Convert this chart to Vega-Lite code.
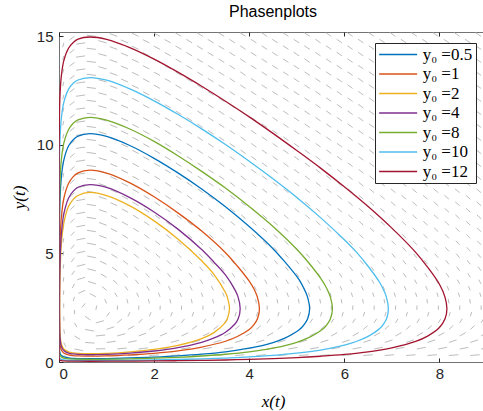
{
"$schema":"https://vega.github.io/schema/vega-lite/v6.json",
"width":428,"height":330,"autosize":"none",
"padding":{"left":59,"top":32,"right":0,"bottom":49},
"background":"white",
"title":{"text":"Phasenplots","font":"Liberation Sans","fontSize":16,"fontWeight":"normal","color":"#000","offset":9,"anchor":"middle"},
"config":{"view":{"stroke":"#737373","strokeWidth":1}},
"datasets":{
"q":[
{"x":0.1,"y":0.3,"xe":0.237,"ye":0.155},{"x":0.55,"y":0.3,"xe":0.75,"ye":0.293},{"x":1,"y":0.3,"xe":1.2,"ye":0.313},{"x":1.45,"y":0.3,"xe":1.649,"ye":0.321},{"x":1.9,"y":0.3,"xe":2.098,"ye":0.325},{"x":2.35,"y":0.3,"xe":2.548,"ye":0.328},{"x":2.8,"y":0.3,"xe":2.998,"ye":0.329},{"x":3.25,"y":0.3,"xe":3.448,"ye":0.33},{"x":3.7,"y":0.3,"xe":3.897,"ye":0.332},{"x":4.15,"y":0.3,"xe":4.347,"ye":0.332},{"x":4.6,"y":0.3,"xe":4.797,"ye":0.332},{"x":5.05,"y":0.3,"xe":5.247,"ye":0.332},{"x":5.5,"y":0.3,"xe":5.697,"ye":0.334},{"x":5.95,"y":0.3,"xe":6.147,"ye":0.334},{"x":6.4,"y":0.3,"xe":6.597,"ye":0.334},{"x":6.85,"y":0.3,"xe":7.047,"ye":0.334},{"x":7.3,"y":0.3,"xe":7.497,"ye":0.334},{"x":7.75,"y":0.3,"xe":7.947,"ye":0.334},{"x":8.2,"y":0.3,"xe":8.397,"ye":0.334},{"x":8.65,"y":0.3,"xe":8.847,"ye":0.334},
{"x":0.1,"y":0.9,"xe":0.144,"ye":0.705},{"x":0.55,"y":0.9,"xe":0.748,"ye":0.871},{"x":1,"y":0.9,"xe":1.193,"ye":0.954},{"x":1.45,"y":0.9,"xe":1.633,"ye":0.981},{"x":1.9,"y":0.9,"xe":2.077,"ye":0.993},{"x":2.35,"y":0.9,"xe":2.523,"ye":1.0},{"x":2.8,"y":0.9,"xe":2.97,"ye":1.005},{"x":3.25,"y":0.9,"xe":3.418,"ye":1.008},{"x":3.7,"y":0.9,"xe":3.867,"ye":1.01},{"x":4.15,"y":0.9,"xe":4.316,"ye":1.012},{"x":4.6,"y":0.9,"xe":4.765,"ye":1.013},{"x":5.05,"y":0.9,"xe":5.214,"ye":1.014},{"x":5.5,"y":0.9,"xe":5.663,"ye":1.015},{"x":5.95,"y":0.9,"xe":6.112,"ye":1.017},{"x":6.4,"y":0.9,"xe":6.562,"ye":1.017},{"x":6.85,"y":0.9,"xe":7.012,"ye":1.017},{"x":7.3,"y":0.9,"xe":7.461,"ye":1.019},{"x":7.75,"y":0.9,"xe":7.911,"ye":1.019},{"x":8.2,"y":0.9,"xe":8.361,"ye":1.019},{"x":8.65,"y":0.9,"xe":8.811,"ye":1.019},
{"x":0.1,"y":1.5,"xe":0.117,"ye":1.301},{"x":0.55,"y":1.5,"xe":0.736,"ye":1.426},{"x":1,"y":1.5,"xe":1.159,"ye":1.621},{"x":1.45,"y":1.5,"xe":1.578,"ye":1.654},{"x":1.9,"y":1.5,"xe":2.014,"ye":1.664},{"x":2.35,"y":1.5,"xe":2.457,"ye":1.669},{"x":2.8,"y":1.5,"xe":2.903,"ye":1.672},{"x":3.25,"y":1.5,"xe":3.349,"ye":1.674},{"x":3.7,"y":1.5,"xe":3.797,"ye":1.675},{"x":4.15,"y":1.5,"xe":4.246,"ye":1.676},{"x":4.6,"y":1.5,"xe":4.694,"ye":1.676},{"x":5.05,"y":1.5,"xe":5.143,"ye":1.677},{"x":5.5,"y":1.5,"xe":5.592,"ye":1.677},{"x":5.95,"y":1.5,"xe":6.041,"ye":1.678},{"x":6.4,"y":1.5,"xe":6.491,"ye":1.678},{"x":6.85,"y":1.5,"xe":6.941,"ye":1.678},{"x":7.3,"y":1.5,"xe":7.389,"ye":1.679},{"x":7.75,"y":1.5,"xe":7.839,"ye":1.679},{"x":8.2,"y":1.5,"xe":8.289,"ye":1.679},{"x":8.65,"y":1.5,"xe":8.739,"ye":1.679},
{"x":0.1,"y":2.1,"xe":0.104,"ye":1.9},{"x":0.55,"y":2.1,"xe":0.661,"ye":1.934},{"x":1,"y":2.1,"xe":1.065,"ye":2.289},{"x":1.45,"y":2.1,"xe":1.493,"ye":2.295},{"x":1.9,"y":2.1,"xe":1.936,"ye":2.297},{"x":2.35,"y":2.1,"xe":2.383,"ye":2.297},{"x":2.8,"y":2.1,"xe":2.831,"ye":2.298},{"x":3.25,"y":2.1,"xe":3.28,"ye":2.298},{"x":3.7,"y":2.1,"xe":3.728,"ye":2.298},{"x":4.15,"y":2.1,"xe":4.178,"ye":2.298},{"x":4.6,"y":2.1,"xe":4.628,"ye":2.298},{"x":5.05,"y":2.1,"xe":5.078,"ye":2.298},{"x":5.5,"y":2.1,"xe":5.527,"ye":2.298},{"x":5.95,"y":2.1,"xe":5.977,"ye":2.298},{"x":6.4,"y":2.1,"xe":6.427,"ye":2.298},{"x":6.85,"y":2.1,"xe":6.877,"ye":2.298},{"x":7.3,"y":2.1,"xe":7.327,"ye":2.298},{"x":7.75,"y":2.1,"xe":7.777,"ye":2.298},{"x":8.2,"y":2.1,"xe":8.227,"ye":2.298},{"x":8.65,"y":2.1,"xe":8.677,"ye":2.298},
{"x":0.1,"y":2.7,"xe":0.098,"ye":2.5},{"x":0.55,"y":2.7,"xe":0.481,"ye":2.512},{"x":1,"y":2.7,"xe":0.962,"ye":2.896},{"x":1.45,"y":2.7,"xe":1.426,"ye":2.898},{"x":1.9,"y":2.7,"xe":1.88,"ye":2.899},{"x":2.35,"y":2.7,"xe":2.331,"ye":2.9},{"x":2.8,"y":2.7,"xe":2.783,"ye":2.9},{"x":3.25,"y":2.7,"xe":3.233,"ye":2.9},{"x":3.7,"y":2.7,"xe":3.684,"ye":2.9},{"x":4.15,"y":2.7,"xe":4.134,"ye":2.9},{"x":4.6,"y":2.7,"xe":4.584,"ye":2.9},{"x":5.05,"y":2.7,"xe":5.034,"ye":2.9},{"x":5.5,"y":2.7,"xe":5.485,"ye":2.9},{"x":5.95,"y":2.7,"xe":5.935,"ye":2.9},{"x":6.4,"y":2.7,"xe":6.385,"ye":2.9},{"x":6.85,"y":2.7,"xe":6.835,"ye":2.9},{"x":7.3,"y":2.7,"xe":7.285,"ye":2.9},{"x":7.75,"y":2.7,"xe":7.735,"ye":2.9},{"x":8.2,"y":2.7,"xe":8.185,"ye":2.9},{"x":8.65,"y":2.7,"xe":8.635,"ye":2.9},
{"x":0.1,"y":3.3,"xe":0.093,"ye":3.101},{"x":0.55,"y":3.3,"xe":0.407,"ye":3.161},{"x":1,"y":3.3,"xe":0.906,"ye":3.476},{"x":1.45,"y":3.3,"xe":1.386,"ye":3.489},{"x":1.9,"y":3.3,"xe":1.845,"ye":3.492},{"x":2.35,"y":3.3,"xe":2.3,"ye":3.494},{"x":2.8,"y":3.3,"xe":2.753,"ye":3.495},{"x":3.25,"y":3.3,"xe":3.203,"ye":3.495},{"x":3.7,"y":3.3,"xe":3.657,"ye":3.495},{"x":4.15,"y":3.3,"xe":4.107,"ye":3.495},{"x":4.6,"y":3.3,"xe":4.557,"ye":3.495},{"x":5.05,"y":3.3,"xe":5.007,"ye":3.495},{"x":5.5,"y":3.3,"xe":5.46,"ye":3.496},{"x":5.95,"y":3.3,"xe":5.91,"ye":3.496},{"x":6.4,"y":3.3,"xe":6.36,"ye":3.496},{"x":6.85,"y":3.3,"xe":6.81,"ye":3.496},{"x":7.3,"y":3.3,"xe":7.26,"ye":3.496},{"x":7.75,"y":3.3,"xe":7.71,"ye":3.496},{"x":8.2,"y":3.3,"xe":8.16,"ye":3.496},{"x":8.65,"y":3.3,"xe":8.61,"ye":3.496},
{"x":0.1,"y":3.9,"xe":0.09,"ye":3.701},{"x":0.55,"y":3.9,"xe":0.384,"ye":3.788},{"x":1,"y":3.9,"xe":0.878,"ye":4.058},{"x":1.45,"y":3.9,"xe":1.362,"ye":4.08},{"x":1.9,"y":3.9,"xe":1.824,"ye":4.085},{"x":2.35,"y":3.9,"xe":2.28,"ye":4.087},{"x":2.8,"y":3.9,"xe":2.735,"ye":4.089},{"x":3.25,"y":3.9,"xe":3.185,"ye":4.089},{"x":3.7,"y":3.9,"xe":3.639,"ye":4.091},{"x":4.15,"y":3.9,"xe":4.089,"ye":4.091},{"x":4.6,"y":3.9,"xe":4.539,"ye":4.091},{"x":5.05,"y":3.9,"xe":4.989,"ye":4.091},{"x":5.5,"y":3.9,"xe":5.443,"ye":4.092},{"x":5.95,"y":3.9,"xe":5.893,"ye":4.092},{"x":6.4,"y":3.9,"xe":6.343,"ye":4.092},{"x":6.85,"y":3.9,"xe":6.793,"ye":4.092},{"x":7.3,"y":3.9,"xe":7.243,"ye":4.092},{"x":7.75,"y":3.9,"xe":7.693,"ye":4.092},{"x":8.2,"y":3.9,"xe":8.143,"ye":4.092},{"x":8.65,"y":3.9,"xe":8.593,"ye":4.092},
{"x":0.1,"y":4.5,"xe":0.088,"ye":4.301},{"x":0.55,"y":4.5,"xe":0.375,"ye":4.404},{"x":1,"y":4.5,"xe":0.863,"ye":4.645},{"x":1.45,"y":4.5,"xe":1.347,"ye":4.672},{"x":1.9,"y":4.5,"xe":1.81,"ye":4.679},{"x":2.35,"y":4.5,"xe":2.267,"ye":4.682},{"x":2.8,"y":4.5,"xe":2.722,"ye":4.684},{"x":3.25,"y":4.5,"xe":3.172,"ye":4.684},{"x":3.7,"y":4.5,"xe":3.627,"ye":4.686},{"x":4.15,"y":4.5,"xe":4.077,"ye":4.686},{"x":4.6,"y":4.5,"xe":4.527,"ye":4.686},{"x":5.05,"y":4.5,"xe":4.977,"ye":4.686},{"x":5.5,"y":4.5,"xe":5.431,"ye":4.688},{"x":5.95,"y":4.5,"xe":5.881,"ye":4.688},{"x":6.4,"y":4.5,"xe":6.331,"ye":4.688},{"x":6.85,"y":4.5,"xe":6.781,"ye":4.688},{"x":7.3,"y":4.5,"xe":7.231,"ye":4.688},{"x":7.75,"y":4.5,"xe":7.681,"ye":4.688},{"x":8.2,"y":4.5,"xe":8.131,"ye":4.688},{"x":8.65,"y":4.5,"xe":8.581,"ye":4.688},
{"x":0.1,"y":5.1,"xe":0.086,"ye":4.901},{"x":0.55,"y":5.1,"xe":0.37,"ye":5.013},{"x":1,"y":5.1,"xe":0.853,"ye":5.236},{"x":1.45,"y":5.1,"xe":1.337,"ye":5.265},{"x":1.9,"y":5.1,"xe":1.801,"ye":5.274},{"x":2.35,"y":5.1,"xe":2.258,"ye":5.277},{"x":2.8,"y":5.1,"xe":2.713,"ye":5.28},{"x":3.25,"y":5.1,"xe":3.163,"ye":5.28},{"x":3.7,"y":5.1,"xe":3.619,"ye":5.283},{"x":4.15,"y":5.1,"xe":4.069,"ye":5.283},{"x":4.6,"y":5.1,"xe":4.519,"ye":5.283},{"x":5.05,"y":5.1,"xe":4.969,"ye":5.283},{"x":5.5,"y":5.1,"xe":5.423,"ye":5.285},{"x":5.95,"y":5.1,"xe":5.873,"ye":5.285},{"x":6.4,"y":5.1,"xe":6.323,"ye":5.285},{"x":6.85,"y":5.1,"xe":6.773,"ye":5.285},{"x":7.3,"y":5.1,"xe":7.223,"ye":5.285},{"x":7.75,"y":5.1,"xe":7.673,"ye":5.285},{"x":8.2,"y":5.1,"xe":8.123,"ye":5.285},{"x":8.65,"y":5.1,"xe":8.573,"ye":5.285},
{"x":0.1,"y":5.7,"xe":0.085,"ye":5.501},{"x":0.55,"y":5.7,"xe":0.367,"ye":5.619},{"x":1,"y":5.7,"xe":0.847,"ye":5.829},{"x":1.45,"y":5.7,"xe":1.33,"ye":5.86},{"x":1.9,"y":5.7,"xe":1.794,"ye":5.869},{"x":2.35,"y":5.7,"xe":2.251,"ye":5.874},{"x":2.8,"y":5.7,"xe":2.707,"ye":5.877},{"x":3.25,"y":5.7,"xe":3.157,"ye":5.877},{"x":3.7,"y":5.7,"xe":3.612,"ye":5.88},{"x":4.15,"y":5.7,"xe":4.062,"ye":5.88},{"x":4.6,"y":5.7,"xe":4.512,"ye":5.88},{"x":5.05,"y":5.7,"xe":4.962,"ye":5.88},{"x":5.5,"y":5.7,"xe":5.417,"ye":5.882},{"x":5.95,"y":5.7,"xe":5.867,"ye":5.882},{"x":6.4,"y":5.7,"xe":6.317,"ye":5.882},{"x":6.85,"y":5.7,"xe":6.767,"ye":5.882},{"x":7.3,"y":5.7,"xe":7.217,"ye":5.882},{"x":7.75,"y":5.7,"xe":7.667,"ye":5.882},{"x":8.2,"y":5.7,"xe":8.117,"ye":5.882},{"x":8.65,"y":5.7,"xe":8.567,"ye":5.882},
{"x":0.1,"y":6.3,"xe":0.084,"ye":6.101},{"x":0.55,"y":6.3,"xe":0.365,"ye":6.224},{"x":1,"y":6.3,"xe":0.843,"ye":6.424},{"x":1.45,"y":6.3,"xe":1.325,"ye":6.456},{"x":1.9,"y":6.3,"xe":1.788,"ye":6.466},{"x":2.35,"y":6.3,"xe":2.246,"ye":6.471},{"x":2.8,"y":6.3,"xe":2.702,"ye":6.474},{"x":3.25,"y":6.3,"xe":3.152,"ye":6.474},{"x":3.7,"y":6.3,"xe":3.607,"ye":6.477},{"x":4.15,"y":6.3,"xe":4.057,"ye":6.477},{"x":4.6,"y":6.3,"xe":4.507,"ye":6.477},{"x":5.05,"y":6.3,"xe":4.957,"ye":6.477},{"x":5.5,"y":6.3,"xe":5.412,"ye":6.48},{"x":5.95,"y":6.3,"xe":5.862,"ye":6.48},{"x":6.4,"y":6.3,"xe":6.312,"ye":6.48},{"x":6.85,"y":6.3,"xe":6.762,"ye":6.48},{"x":7.3,"y":6.3,"xe":7.212,"ye":6.48},{"x":7.75,"y":6.3,"xe":7.662,"ye":6.48},{"x":8.2,"y":6.3,"xe":8.112,"ye":6.48},{"x":8.65,"y":6.3,"xe":8.562,"ye":6.48},
{"x":0.1,"y":6.9,"xe":0.083,"ye":6.701},{"x":0.55,"y":6.9,"xe":0.364,"ye":6.827},{"x":1,"y":6.9,"xe":0.84,"ye":7.02},{"x":1.45,"y":6.9,"xe":1.321,"ye":7.053},{"x":1.9,"y":6.9,"xe":1.784,"ye":7.063},{"x":2.35,"y":6.9,"xe":2.241,"ye":7.068},{"x":2.8,"y":6.9,"xe":2.697,"ye":7.072},{"x":3.25,"y":6.9,"xe":3.147,"ye":7.072},{"x":3.7,"y":6.9,"xe":3.604,"ye":7.075},{"x":4.15,"y":6.9,"xe":4.054,"ye":7.075},{"x":4.6,"y":6.9,"xe":4.504,"ye":7.075},{"x":5.05,"y":6.9,"xe":4.954,"ye":7.075},{"x":5.5,"y":6.9,"xe":5.408,"ye":7.078},{"x":5.95,"y":6.9,"xe":5.858,"ye":7.078},{"x":6.4,"y":6.9,"xe":6.308,"ye":7.078},{"x":6.85,"y":6.9,"xe":6.758,"ye":7.078},{"x":7.3,"y":6.9,"xe":7.208,"ye":7.078},{"x":7.75,"y":6.9,"xe":7.658,"ye":7.078},{"x":8.2,"y":6.9,"xe":8.108,"ye":7.078},{"x":8.65,"y":6.9,"xe":8.558,"ye":7.078},
{"x":0.1,"y":7.5,"xe":0.082,"ye":7.301},{"x":0.55,"y":7.5,"xe":0.363,"ye":7.43},{"x":1,"y":7.5,"xe":0.838,"ye":7.617},{"x":1.45,"y":7.5,"xe":1.318,"ye":7.65},{"x":1.9,"y":7.5,"xe":1.781,"ye":7.661},{"x":2.35,"y":7.5,"xe":2.238,"ye":7.666},{"x":2.8,"y":7.5,"xe":2.694,"ye":7.67},{"x":3.25,"y":7.5,"xe":3.144,"ye":7.67},{"x":3.7,"y":7.5,"xe":3.6,"ye":7.673},{"x":4.15,"y":7.5,"xe":4.05,"ye":7.673},{"x":4.6,"y":7.5,"xe":4.5,"ye":7.673},{"x":5.05,"y":7.5,"xe":4.95,"ye":7.673},{"x":5.5,"y":7.5,"xe":5.405,"ye":7.676},{"x":5.95,"y":7.5,"xe":5.855,"ye":7.676},{"x":6.4,"y":7.5,"xe":6.305,"ye":7.676},{"x":6.85,"y":7.5,"xe":6.755,"ye":7.676},{"x":7.3,"y":7.5,"xe":7.205,"ye":7.676},{"x":7.75,"y":7.5,"xe":7.655,"ye":7.676},{"x":8.2,"y":7.5,"xe":8.105,"ye":7.676},{"x":8.65,"y":7.5,"xe":8.555,"ye":7.676},
{"x":0.1,"y":8.1,"xe":0.082,"ye":7.901},{"x":0.55,"y":8.1,"xe":0.362,"ye":8.032},{"x":1,"y":8.1,"xe":0.836,"ye":8.214},{"x":1.45,"y":8.1,"xe":1.315,"ye":8.247},{"x":1.9,"y":8.1,"xe":1.778,"ye":8.259},{"x":2.35,"y":8.1,"xe":2.235,"ye":8.264},{"x":2.8,"y":8.1,"xe":2.691,"ye":8.268},{"x":3.25,"y":8.1,"xe":3.141,"ye":8.268},{"x":3.7,"y":8.1,"xe":3.597,"ye":8.272},{"x":4.15,"y":8.1,"xe":4.047,"ye":8.272},{"x":4.6,"y":8.1,"xe":4.497,"ye":8.272},{"x":5.05,"y":8.1,"xe":4.947,"ye":8.272},{"x":5.5,"y":8.1,"xe":5.403,"ye":8.275},{"x":5.95,"y":8.1,"xe":5.853,"ye":8.275},{"x":6.4,"y":8.1,"xe":6.303,"ye":8.275},{"x":6.85,"y":8.1,"xe":6.753,"ye":8.275},{"x":7.3,"y":8.1,"xe":7.203,"ye":8.275},{"x":7.75,"y":8.1,"xe":7.653,"ye":8.275},{"x":8.2,"y":8.1,"xe":8.103,"ye":8.275},{"x":8.65,"y":8.1,"xe":8.553,"ye":8.275},
{"x":0.1,"y":8.7,"xe":0.081,"ye":8.501},{"x":0.55,"y":8.7,"xe":0.361,"ye":8.634},{"x":1,"y":8.7,"xe":0.834,"ye":8.812},{"x":1.45,"y":8.7,"xe":1.313,"ye":8.845},{"x":1.9,"y":8.7,"xe":1.776,"ye":8.857},{"x":2.35,"y":8.7,"xe":2.233,"ye":8.862},{"x":2.8,"y":8.7,"xe":2.689,"ye":8.867},{"x":3.25,"y":8.7,"xe":3.139,"ye":8.867},{"x":3.7,"y":8.7,"xe":3.595,"ye":8.87},{"x":4.15,"y":8.7,"xe":4.045,"ye":8.87},{"x":4.6,"y":8.7,"xe":4.495,"ye":8.87},{"x":5.05,"y":8.7,"xe":4.945,"ye":8.87},{"x":5.5,"y":8.7,"xe":5.4,"ye":8.873},{"x":5.95,"y":8.7,"xe":5.85,"ye":8.873},{"x":6.4,"y":8.7,"xe":6.3,"ye":8.873},{"x":6.85,"y":8.7,"xe":6.75,"ye":8.873},{"x":7.3,"y":8.7,"xe":7.2,"ye":8.873},{"x":7.75,"y":8.7,"xe":7.65,"ye":8.873},{"x":8.2,"y":8.7,"xe":8.1,"ye":8.873},{"x":8.65,"y":8.7,"xe":8.55,"ye":8.873},
{"x":0.1,"y":9.3,"xe":0.081,"ye":9.101},{"x":0.55,"y":9.3,"xe":0.361,"ye":9.236},{"x":1,"y":9.3,"xe":0.833,"ye":9.41},{"x":1.45,"y":9.3,"xe":1.311,"ye":9.444},{"x":1.9,"y":9.3,"xe":1.774,"ye":9.455},{"x":2.35,"y":9.3,"xe":2.231,"ye":9.461},{"x":2.8,"y":9.3,"xe":2.687,"ye":9.465},{"x":3.25,"y":9.3,"xe":3.137,"ye":9.465},{"x":3.7,"y":9.3,"xe":3.593,"ye":9.469},{"x":4.15,"y":9.3,"xe":4.043,"ye":9.469},{"x":4.6,"y":9.3,"xe":4.493,"ye":9.469},{"x":5.05,"y":9.3,"xe":4.943,"ye":9.469},{"x":5.5,"y":9.3,"xe":5.398,"ye":9.472},{"x":5.95,"y":9.3,"xe":5.848,"ye":9.472},{"x":6.4,"y":9.3,"xe":6.298,"ye":9.472},{"x":6.85,"y":9.3,"xe":6.748,"ye":9.472},{"x":7.3,"y":9.3,"xe":7.198,"ye":9.472},{"x":7.75,"y":9.3,"xe":7.648,"ye":9.472},{"x":8.2,"y":9.3,"xe":8.098,"ye":9.472},{"x":8.65,"y":9.3,"xe":8.548,"ye":9.472},
{"x":0.1,"y":9.9,"xe":0.08,"ye":9.701},{"x":0.55,"y":9.9,"xe":0.36,"ye":9.837},{"x":1,"y":9.9,"xe":0.832,"ye":10.008},{"x":1.45,"y":9.9,"xe":1.309,"ye":10.042},{"x":1.9,"y":9.9,"xe":1.772,"ye":10.054},{"x":2.35,"y":9.9,"xe":2.23,"ye":10.06},{"x":2.8,"y":9.9,"xe":2.686,"ye":10.064},{"x":3.25,"y":9.9,"xe":3.136,"ye":10.064},{"x":3.7,"y":9.9,"xe":3.592,"ye":10.068},{"x":4.15,"y":9.9,"xe":4.042,"ye":10.068},{"x":4.6,"y":9.9,"xe":4.492,"ye":10.068},{"x":5.05,"y":9.9,"xe":4.942,"ye":10.068},{"x":5.5,"y":9.9,"xe":5.397,"ye":10.071},{"x":5.95,"y":9.9,"xe":5.847,"ye":10.071},{"x":6.4,"y":9.9,"xe":6.297,"ye":10.071},{"x":6.85,"y":9.9,"xe":6.747,"ye":10.071},{"x":7.3,"y":9.9,"xe":7.197,"ye":10.071},{"x":7.75,"y":9.9,"xe":7.647,"ye":10.071},{"x":8.2,"y":9.9,"xe":8.097,"ye":10.071},{"x":8.65,"y":9.9,"xe":8.547,"ye":10.071},
{"x":0.1,"y":10.5,"xe":0.08,"ye":10.301},{"x":0.55,"y":10.5,"xe":0.36,"ye":10.438},{"x":1,"y":10.5,"xe":0.831,"ye":10.607},{"x":1.45,"y":10.5,"xe":1.308,"ye":10.641},{"x":1.9,"y":10.5,"xe":1.771,"ye":10.653},{"x":2.35,"y":10.5,"xe":2.228,"ye":10.659},{"x":2.8,"y":10.5,"xe":2.684,"ye":10.663},{"x":3.25,"y":10.5,"xe":3.134,"ye":10.663},{"x":3.7,"y":10.5,"xe":3.59,"ye":10.667},{"x":4.15,"y":10.5,"xe":4.04,"ye":10.667},{"x":4.6,"y":10.5,"xe":4.49,"ye":10.667},{"x":5.05,"y":10.5,"xe":4.94,"ye":10.667},{"x":5.5,"y":10.5,"xe":5.396,"ye":10.67},{"x":5.95,"y":10.5,"xe":5.846,"ye":10.67},{"x":6.4,"y":10.5,"xe":6.296,"ye":10.67},{"x":6.85,"y":10.5,"xe":6.746,"ye":10.67},{"x":7.3,"y":10.5,"xe":7.196,"ye":10.67},{"x":7.75,"y":10.5,"xe":7.646,"ye":10.67},{"x":8.2,"y":10.5,"xe":8.096,"ye":10.67},{"x":8.65,"y":10.5,"xe":8.546,"ye":10.67},
{"x":0.1,"y":11.1,"xe":0.079,"ye":10.901},{"x":0.55,"y":11.1,"xe":0.36,"ye":11.039},{"x":1,"y":11.1,"xe":0.83,"ye":11.205},{"x":1.45,"y":11.1,"xe":1.307,"ye":11.24},{"x":1.9,"y":11.1,"xe":1.77,"ye":11.252},{"x":2.35,"y":11.1,"xe":2.227,"ye":11.258},{"x":2.8,"y":11.1,"xe":2.683,"ye":11.262},{"x":3.25,"y":11.1,"xe":3.133,"ye":11.262},{"x":3.7,"y":11.1,"xe":3.589,"ye":11.266},{"x":4.15,"y":11.1,"xe":4.039,"ye":11.266},{"x":4.6,"y":11.1,"xe":4.489,"ye":11.266},{"x":5.05,"y":11.1,"xe":4.939,"ye":11.266},{"x":5.5,"y":11.1,"xe":5.394,"ye":11.27},{"x":5.95,"y":11.1,"xe":5.844,"ye":11.27},{"x":6.4,"y":11.1,"xe":6.294,"ye":11.27},{"x":6.85,"y":11.1,"xe":6.744,"ye":11.27},{"x":7.3,"y":11.1,"xe":7.194,"ye":11.27},{"x":7.75,"y":11.1,"xe":7.644,"ye":11.27},{"x":8.2,"y":11.1,"xe":8.094,"ye":11.27},{"x":8.65,"y":11.1,"xe":8.544,"ye":11.27},
{"x":0.1,"y":11.7,"xe":0.079,"ye":11.501},{"x":0.55,"y":11.7,"xe":0.36,"ye":11.64},{"x":1,"y":11.7,"xe":0.829,"ye":11.804},{"x":1.45,"y":11.7,"xe":1.306,"ye":11.839},{"x":1.9,"y":11.7,"xe":1.769,"ye":11.851},{"x":2.35,"y":11.7,"xe":2.226,"ye":11.857},{"x":2.8,"y":11.7,"xe":2.682,"ye":11.861},{"x":3.25,"y":11.7,"xe":3.132,"ye":11.861},{"x":3.7,"y":11.7,"xe":3.588,"ye":11.866},{"x":4.15,"y":11.7,"xe":4.038,"ye":11.866},{"x":4.6,"y":11.7,"xe":4.488,"ye":11.866},{"x":5.05,"y":11.7,"xe":4.938,"ye":11.866},{"x":5.5,"y":11.7,"xe":5.393,"ye":11.869},{"x":5.95,"y":11.7,"xe":5.843,"ye":11.869},{"x":6.4,"y":11.7,"xe":6.293,"ye":11.869},{"x":6.85,"y":11.7,"xe":6.743,"ye":11.869},{"x":7.3,"y":11.7,"xe":7.193,"ye":11.869},{"x":7.75,"y":11.7,"xe":7.643,"ye":11.869},{"x":8.2,"y":11.7,"xe":8.093,"ye":11.869},{"x":8.65,"y":11.7,"xe":8.543,"ye":11.869},
{"x":0.1,"y":12.3,"xe":0.079,"ye":12.101},{"x":0.55,"y":12.3,"xe":0.36,"ye":12.24},{"x":1,"y":12.3,"xe":0.829,"ye":12.403},{"x":1.45,"y":12.3,"xe":1.305,"ye":12.438},{"x":1.9,"y":12.3,"xe":1.768,"ye":12.45},{"x":2.35,"y":12.3,"xe":2.225,"ye":12.457},{"x":2.8,"y":12.3,"xe":2.681,"ye":12.461},{"x":3.25,"y":12.3,"xe":3.131,"ye":12.461},{"x":3.7,"y":12.3,"xe":3.587,"ye":12.465},{"x":4.15,"y":12.3,"xe":4.037,"ye":12.465},{"x":4.6,"y":12.3,"xe":4.487,"ye":12.465},{"x":5.05,"y":12.3,"xe":4.937,"ye":12.465},{"x":5.5,"y":12.3,"xe":5.392,"ye":12.469},{"x":5.95,"y":12.3,"xe":5.842,"ye":12.469},{"x":6.4,"y":12.3,"xe":6.292,"ye":12.469},{"x":6.85,"y":12.3,"xe":6.742,"ye":12.469},{"x":7.3,"y":12.3,"xe":7.192,"ye":12.469},{"x":7.75,"y":12.3,"xe":7.642,"ye":12.469},{"x":8.2,"y":12.3,"xe":8.092,"ye":12.469},{"x":8.65,"y":12.3,"xe":8.542,"ye":12.469},
{"x":0.1,"y":12.9,"xe":0.079,"ye":12.701},{"x":0.55,"y":12.9,"xe":0.36,"ye":12.84},{"x":1,"y":12.9,"xe":0.828,"ye":13.002},{"x":1.45,"y":12.9,"xe":1.304,"ye":13.037},{"x":1.9,"y":12.9,"xe":1.767,"ye":13.049},{"x":2.35,"y":12.9,"xe":2.224,"ye":13.056},{"x":2.8,"y":12.9,"xe":2.68,"ye":13.06},{"x":3.25,"y":12.9,"xe":3.13,"ye":13.06},{"x":3.7,"y":12.9,"xe":3.586,"ye":13.065},{"x":4.15,"y":12.9,"xe":4.036,"ye":13.065},{"x":4.6,"y":12.9,"xe":4.486,"ye":13.065},{"x":5.05,"y":12.9,"xe":4.936,"ye":13.065},{"x":5.5,"y":12.9,"xe":5.391,"ye":13.068},{"x":5.95,"y":12.9,"xe":5.841,"ye":13.068},{"x":6.4,"y":12.9,"xe":6.291,"ye":13.068},{"x":6.85,"y":12.9,"xe":6.741,"ye":13.068},{"x":7.3,"y":12.9,"xe":7.191,"ye":13.068},{"x":7.75,"y":12.9,"xe":7.641,"ye":13.068},{"x":8.2,"y":12.9,"xe":8.091,"ye":13.068},{"x":8.65,"y":12.9,"xe":8.541,"ye":13.068},
{"x":0.1,"y":13.5,"xe":0.078,"ye":13.301},{"x":0.55,"y":13.5,"xe":0.36,"ye":13.44},{"x":1,"y":13.5,"xe":0.828,"ye":13.602},{"x":1.45,"y":13.5,"xe":1.303,"ye":13.636},{"x":1.9,"y":13.5,"xe":1.766,"ye":13.649},{"x":2.35,"y":13.5,"xe":2.223,"ye":13.655},{"x":2.8,"y":13.5,"xe":2.679,"ye":13.66},{"x":3.25,"y":13.5,"xe":3.129,"ye":13.66},{"x":3.7,"y":13.5,"xe":3.585,"ye":13.664},{"x":4.15,"y":13.5,"xe":4.035,"ye":13.664},{"x":4.6,"y":13.5,"xe":4.485,"ye":13.664},{"x":5.05,"y":13.5,"xe":4.935,"ye":13.664},{"x":5.5,"y":13.5,"xe":5.39,"ye":13.668},{"x":5.95,"y":13.5,"xe":5.84,"ye":13.668},{"x":6.4,"y":13.5,"xe":6.29,"ye":13.668},{"x":6.85,"y":13.5,"xe":6.74,"ye":13.668},{"x":7.3,"y":13.5,"xe":7.19,"ye":13.668},{"x":7.75,"y":13.5,"xe":7.64,"ye":13.668},{"x":8.2,"y":13.5,"xe":8.09,"ye":13.668},{"x":8.65,"y":13.5,"xe":8.54,"ye":13.668},
{"x":0.1,"y":14.1,"xe":0.078,"ye":13.901},{"x":0.55,"y":14.1,"xe":0.359,"ye":14.041},{"x":1,"y":14.1,"xe":0.827,"ye":14.201},{"x":1.45,"y":14.1,"xe":1.303,"ye":14.236},{"x":1.9,"y":14.1,"xe":1.765,"ye":14.248},{"x":2.35,"y":14.1,"xe":2.222,"ye":14.255},{"x":2.8,"y":14.1,"xe":2.679,"ye":14.259},{"x":3.25,"y":14.1,"xe":3.129,"ye":14.259},{"x":3.7,"y":14.1,"xe":3.584,"ye":14.264},{"x":4.15,"y":14.1,"xe":4.034,"ye":14.264},{"x":4.6,"y":14.1,"xe":4.484,"ye":14.264},{"x":5.05,"y":14.1,"xe":4.934,"ye":14.264},{"x":5.5,"y":14.1,"xe":5.389,"ye":14.268},{"x":5.95,"y":14.1,"xe":5.839,"ye":14.268},{"x":6.4,"y":14.1,"xe":6.289,"ye":14.268},{"x":6.85,"y":14.1,"xe":6.739,"ye":14.268},{"x":7.3,"y":14.1,"xe":7.189,"ye":14.268},{"x":7.75,"y":14.1,"xe":7.639,"ye":14.268},{"x":8.2,"y":14.1,"xe":8.089,"ye":14.268},{"x":8.65,"y":14.1,"xe":8.539,"ye":14.268},
{"x":0.1,"y":14.7,"xe":0.078,"ye":14.501},{"x":0.55,"y":14.7,"xe":0.359,"ye":14.642},{"x":1,"y":14.7,"xe":0.827,"ye":14.8},{"x":1.45,"y":14.7,"xe":1.302,"ye":14.835},{"x":1.9,"y":14.7,"xe":1.765,"ye":14.848},{"x":2.35,"y":14.7,"xe":2.221,"ye":14.854},{"x":2.8,"y":14.7,"xe":2.678,"ye":14.859},{"x":3.25,"y":14.7,"xe":3.128,"ye":14.859},{"x":3.7,"y":14.7,"xe":3.584,"ye":14.863},{"x":4.15,"y":14.7,"xe":4.034,"ye":14.863},{"x":4.6,"y":14.7,"xe":4.484,"ye":14.863},{"x":5.05,"y":14.7,"xe":4.934,"ye":14.863},{"x":5.5,"y":14.7,"xe":5.389,"ye":14.867},{"x":5.95,"y":14.7,"xe":5.839,"ye":14.867},{"x":6.4,"y":14.7,"xe":6.289,"ye":14.867},{"x":6.85,"y":14.7,"xe":6.739,"ye":14.867},{"x":7.3,"y":14.7,"xe":7.189,"ye":14.867},{"x":7.75,"y":14.7,"xe":7.639,"ye":14.867},{"x":8.2,"y":14.7,"xe":8.089,"ye":14.867},{"x":8.65,"y":14.7,"xe":8.539,"ye":14.867},
{"x":0.325,"y":0.6,"xe":0.508,"ye":0.518},{"x":0.775,"y":0.6,"xe":0.974,"ye":0.614},{"x":1.225,"y":0.6,"xe":1.421,"ye":0.641},{"x":1.675,"y":0.6,"xe":1.868,"ye":0.653},{"x":2.125,"y":0.6,"xe":2.316,"ye":0.659},{"x":2.575,"y":0.6,"xe":2.765,"ye":0.663},{"x":3.025,"y":0.6,"xe":3.213,"ye":0.667},{"x":3.475,"y":0.6,"xe":3.663,"ye":0.667},{"x":3.925,"y":0.6,"xe":4.112,"ye":0.671},{"x":4.375,"y":0.6,"xe":4.562,"ye":0.671},{"x":4.825,"y":0.6,"xe":5.012,"ye":0.671},{"x":5.275,"y":0.6,"xe":5.462,"ye":0.671},{"x":5.725,"y":0.6,"xe":5.91,"ye":0.675},{"x":6.175,"y":0.6,"xe":6.36,"ye":0.675},{"x":6.625,"y":0.6,"xe":6.81,"ye":0.675},{"x":7.075,"y":0.6,"xe":7.26,"ye":0.675},{"x":7.525,"y":0.6,"xe":7.71,"ye":0.675},{"x":7.975,"y":0.6,"xe":8.16,"ye":0.675},{"x":8.425,"y":0.6,"xe":8.61,"ye":0.675},{"x":8.875,"y":0.6,"xe":9.06,"ye":0.675},
{"x":0.325,"y":1.2,"xe":0.446,"ye":1.04},{"x":0.775,"y":1.2,"xe":0.971,"ye":1.242},{"x":1.225,"y":1.2,"xe":1.395,"ye":1.306},{"x":1.675,"y":1.2,"xe":1.83,"ye":1.326},{"x":2.125,"y":1.2,"xe":2.272,"ye":1.335},{"x":2.575,"y":1.2,"xe":2.717,"ye":1.341},{"x":3.025,"y":1.2,"xe":3.163,"ye":1.345},{"x":3.475,"y":1.2,"xe":3.613,"ye":1.345},{"x":3.925,"y":1.2,"xe":4.057,"ye":1.35},{"x":4.375,"y":1.2,"xe":4.507,"ye":1.35},{"x":4.825,"y":1.2,"xe":4.957,"ye":1.35},{"x":5.275,"y":1.2,"xe":5.407,"ye":1.35},{"x":5.725,"y":1.2,"xe":5.853,"ye":1.354},{"x":6.175,"y":1.2,"xe":6.303,"ye":1.354},{"x":6.625,"y":1.2,"xe":6.753,"ye":1.354},{"x":7.075,"y":1.2,"xe":7.203,"ye":1.354},{"x":7.525,"y":1.2,"xe":7.653,"ye":1.354},{"x":7.975,"y":1.2,"xe":8.103,"ye":1.354},{"x":8.425,"y":1.2,"xe":8.553,"ye":1.354},{"x":8.875,"y":1.2,"xe":9.003,"ye":1.354},
{"x":0.325,"y":1.8,"xe":0.376,"ye":1.606},{"x":0.775,"y":1.8,"xe":0.945,"ye":1.905},{"x":1.225,"y":1.8,"xe":1.322,"ye":1.975},{"x":1.675,"y":1.8,"xe":1.754,"ye":1.984},{"x":2.125,"y":1.8,"xe":2.196,"ye":1.987},{"x":2.575,"y":1.8,"xe":2.641,"ye":1.989},{"x":3.025,"y":1.8,"xe":3.087,"ye":1.99},{"x":3.475,"y":1.8,"xe":3.537,"ye":1.99},{"x":3.925,"y":1.8,"xe":3.984,"ye":1.992},{"x":4.375,"y":1.8,"xe":4.434,"ye":1.992},{"x":4.825,"y":1.8,"xe":4.884,"ye":1.992},{"x":5.275,"y":1.8,"xe":5.334,"ye":1.992},{"x":5.725,"y":1.8,"xe":5.78,"ye":1.992},{"x":6.175,"y":1.8,"xe":6.23,"ye":1.992},{"x":6.625,"y":1.8,"xe":6.68,"ye":1.992},{"x":7.075,"y":1.8,"xe":7.13,"ye":1.992},{"x":7.525,"y":1.8,"xe":7.58,"ye":1.992},{"x":7.975,"y":1.8,"xe":8.03,"ye":1.992},{"x":8.425,"y":1.8,"xe":8.48,"ye":1.992},{"x":8.875,"y":1.8,"xe":8.93,"ye":1.992},
{"x":0.325,"y":2.4,"xe":0.328,"ye":2.2},{"x":0.775,"y":2.4,"xe":0.794,"ye":2.599},{"x":1.225,"y":2.4,"xe":1.231,"ye":2.6},{"x":1.675,"y":2.4,"xe":1.68,"ye":2.6},{"x":2.125,"y":2.4,"xe":2.129,"ye":2.6},{"x":2.575,"y":2.4,"xe":2.579,"ye":2.6},{"x":3.025,"y":2.4,"xe":3.029,"ye":2.6},{"x":3.475,"y":2.4,"xe":3.479,"ye":2.6},{"x":3.925,"y":2.4,"xe":3.929,"ye":2.6},{"x":4.375,"y":2.4,"xe":4.379,"ye":2.6},{"x":4.825,"y":2.4,"xe":4.829,"ye":2.6},{"x":5.275,"y":2.4,"xe":5.279,"ye":2.6},{"x":5.725,"y":2.4,"xe":5.729,"ye":2.6},{"x":6.175,"y":2.4,"xe":6.179,"ye":2.6},{"x":6.625,"y":2.4,"xe":6.629,"ye":2.6},{"x":7.075,"y":2.4,"xe":7.079,"ye":2.6},{"x":7.525,"y":2.4,"xe":7.529,"ye":2.6},{"x":7.975,"y":2.4,"xe":7.979,"ye":2.6},{"x":8.425,"y":2.4,"xe":8.429,"ye":2.6},{"x":8.875,"y":2.4,"xe":8.879,"ye":2.6},
{"x":0.325,"y":3.0,"xe":0.299,"ye":2.802},{"x":0.775,"y":3.0,"xe":0.648,"ye":3.154},{"x":1.225,"y":3.0,"xe":1.171,"ye":3.192},{"x":1.675,"y":3.0,"xe":1.633,"ye":3.195},{"x":2.125,"y":3.0,"xe":2.088,"ye":3.196},{"x":2.575,"y":3.0,"xe":2.54,"ye":3.197},{"x":3.025,"y":3.0,"xe":2.992,"ye":3.197},{"x":3.475,"y":3.0,"xe":3.442,"ye":3.197},{"x":3.925,"y":3.0,"xe":3.894,"ye":3.198},{"x":4.375,"y":3.0,"xe":4.344,"ye":3.198},{"x":4.825,"y":3.0,"xe":4.794,"ye":3.198},{"x":5.275,"y":3.0,"xe":5.244,"ye":3.198},{"x":5.725,"y":3.0,"xe":5.696,"ye":3.198},{"x":6.175,"y":3.0,"xe":6.146,"ye":3.198},{"x":6.625,"y":3.0,"xe":6.596,"ye":3.198},{"x":7.075,"y":3.0,"xe":7.046,"ye":3.198},{"x":7.525,"y":3.0,"xe":7.496,"ye":3.198},{"x":7.975,"y":3.0,"xe":7.946,"ye":3.198},{"x":8.425,"y":3.0,"xe":8.396,"ye":3.198},{"x":8.875,"y":3.0,"xe":8.846,"ye":3.198},
{"x":0.325,"y":3.6,"xe":0.28,"ye":3.405},{"x":0.775,"y":3.6,"xe":0.611,"ye":3.714},{"x":1.225,"y":3.6,"xe":1.137,"ye":3.779},{"x":1.675,"y":3.6,"xe":1.604,"ye":3.787},{"x":2.125,"y":3.6,"xe":2.062,"ye":3.79},{"x":2.575,"y":3.6,"xe":2.516,"ye":3.791},{"x":3.025,"y":3.6,"xe":2.969,"ye":3.792},{"x":3.475,"y":3.6,"xe":3.419,"ye":3.792},{"x":3.925,"y":3.6,"xe":3.873,"ye":3.793},{"x":4.375,"y":3.6,"xe":4.323,"ye":3.793},{"x":4.825,"y":3.6,"xe":4.773,"ye":3.793},{"x":5.275,"y":3.6,"xe":5.223,"ye":3.793},{"x":5.725,"y":3.6,"xe":5.676,"ye":3.794},{"x":6.175,"y":3.6,"xe":6.126,"ye":3.794},{"x":6.625,"y":3.6,"xe":6.576,"ye":3.794},{"x":7.075,"y":3.6,"xe":7.026,"ye":3.794},{"x":7.525,"y":3.6,"xe":7.476,"ye":3.794},{"x":7.975,"y":3.6,"xe":7.926,"ye":3.794},{"x":8.425,"y":3.6,"xe":8.376,"ye":3.794},{"x":8.875,"y":3.6,"xe":8.826,"ye":3.794},
{"x":0.325,"y":4.2,"xe":0.267,"ye":4.009},{"x":0.775,"y":4.2,"xe":0.599,"ye":4.294},{"x":1.225,"y":4.2,"xe":1.117,"ye":4.368},{"x":1.675,"y":4.2,"xe":1.586,"ye":4.379},{"x":2.125,"y":4.2,"xe":2.045,"ye":4.383},{"x":2.575,"y":4.2,"xe":2.5,"ye":4.385},{"x":3.025,"y":4.2,"xe":2.954,"ye":4.387},{"x":3.475,"y":4.2,"xe":3.404,"ye":4.387},{"x":3.925,"y":4.2,"xe":3.858,"ye":4.389},{"x":4.375,"y":4.2,"xe":4.308,"ye":4.389},{"x":4.825,"y":4.2,"xe":4.758,"ye":4.389},{"x":5.275,"y":4.2,"xe":5.208,"ye":4.389},{"x":5.725,"y":4.2,"xe":5.662,"ye":4.39},{"x":6.175,"y":4.2,"xe":6.112,"ye":4.39},{"x":6.625,"y":4.2,"xe":6.562,"ye":4.39},{"x":7.075,"y":4.2,"xe":7.012,"ye":4.39},{"x":7.525,"y":4.2,"xe":7.462,"ye":4.39},{"x":7.975,"y":4.2,"xe":7.912,"ye":4.39},{"x":8.425,"y":4.2,"xe":8.362,"ye":4.39},{"x":8.875,"y":4.2,"xe":8.812,"ye":4.39},
{"x":0.325,"y":4.8,"xe":0.258,"ye":4.611},{"x":0.775,"y":4.8,"xe":0.593,"ye":4.883},{"x":1.225,"y":4.8,"xe":1.104,"ye":4.96},{"x":1.675,"y":4.8,"xe":1.575,"ye":4.973},{"x":2.125,"y":4.8,"xe":2.034,"ye":4.978},{"x":2.575,"y":4.8,"xe":2.489,"ye":4.981},{"x":3.025,"y":4.8,"xe":2.944,"ye":4.983},{"x":3.475,"y":4.8,"xe":3.394,"ye":4.983},{"x":3.925,"y":4.8,"xe":3.848,"ye":4.985},{"x":4.375,"y":4.8,"xe":4.298,"ye":4.985},{"x":4.825,"y":4.8,"xe":4.748,"ye":4.985},{"x":5.275,"y":4.8,"xe":5.198,"ye":4.985},{"x":5.725,"y":4.8,"xe":5.652,"ye":4.986},{"x":6.175,"y":4.8,"xe":6.102,"ye":4.986},{"x":6.625,"y":4.8,"xe":6.552,"ye":4.986},{"x":7.075,"y":4.8,"xe":7.002,"ye":4.986},{"x":7.525,"y":4.8,"xe":7.452,"ye":4.986},{"x":7.975,"y":4.8,"xe":7.902,"ye":4.986},{"x":8.425,"y":4.8,"xe":8.352,"ye":4.986},{"x":8.875,"y":4.8,"xe":8.802,"ye":4.986},
{"x":0.325,"y":5.4,"xe":0.251,"ye":5.214},{"x":0.775,"y":5.4,"xe":0.59,"ye":5.475},{"x":1.225,"y":5.4,"xe":1.096,"ye":5.553},{"x":1.675,"y":5.4,"xe":1.566,"ye":5.568},{"x":2.125,"y":5.4,"xe":2.026,"ye":5.574},{"x":2.575,"y":5.4,"xe":2.481,"ye":5.577},{"x":3.025,"y":5.4,"xe":2.936,"ye":5.579},{"x":3.475,"y":5.4,"xe":3.386,"ye":5.579},{"x":3.925,"y":5.4,"xe":3.841,"ye":5.582},{"x":4.375,"y":5.4,"xe":4.291,"ye":5.582},{"x":4.825,"y":5.4,"xe":4.741,"ye":5.582},{"x":5.275,"y":5.4,"xe":5.191,"ye":5.582},{"x":5.725,"y":5.4,"xe":5.645,"ye":5.583},{"x":6.175,"y":5.4,"xe":6.095,"ye":5.583},{"x":6.625,"y":5.4,"xe":6.545,"ye":5.583},{"x":7.075,"y":5.4,"xe":6.995,"ye":5.583},{"x":7.525,"y":5.4,"xe":7.445,"ye":5.583},{"x":7.975,"y":5.4,"xe":7.895,"ye":5.583},{"x":8.425,"y":5.4,"xe":8.345,"ye":5.583},{"x":8.875,"y":5.4,"xe":8.795,"ye":5.583},
{"x":0.325,"y":6.0,"xe":0.246,"ye":5.816},{"x":0.775,"y":6.0,"xe":0.588,"ye":6.07},{"x":1.225,"y":6.0,"xe":1.09,"ye":6.148},{"x":1.675,"y":6.0,"xe":1.56,"ye":6.164},{"x":2.125,"y":6.0,"xe":2.02,"ye":6.17},{"x":2.575,"y":6.0,"xe":2.475,"ye":6.173},{"x":3.025,"y":6.0,"xe":2.93,"ye":6.176},{"x":3.475,"y":6.0,"xe":3.38,"ye":6.176},{"x":3.925,"y":6.0,"xe":3.835,"ye":6.179},{"x":4.375,"y":6.0,"xe":4.285,"ye":6.179},{"x":4.825,"y":6.0,"xe":4.735,"ye":6.179},{"x":5.275,"y":6.0,"xe":5.185,"ye":6.179},{"x":5.725,"y":6.0,"xe":5.639,"ye":6.181},{"x":6.175,"y":6.0,"xe":6.089,"ye":6.181},{"x":6.625,"y":6.0,"xe":6.539,"ye":6.181},{"x":7.075,"y":6.0,"xe":6.989,"ye":6.181},{"x":7.525,"y":6.0,"xe":7.439,"ye":6.181},{"x":7.975,"y":6.0,"xe":7.889,"ye":6.181},{"x":8.425,"y":6.0,"xe":8.339,"ye":6.181},{"x":8.875,"y":6.0,"xe":8.789,"ye":6.181},
{"x":0.325,"y":6.6,"xe":0.242,"ye":6.418},{"x":0.775,"y":6.6,"xe":0.586,"ye":6.667},{"x":1.225,"y":6.6,"xe":1.086,"ye":6.744},{"x":1.675,"y":6.6,"xe":1.556,"ye":6.76},{"x":2.125,"y":6.6,"xe":2.015,"ye":6.767},{"x":2.575,"y":6.6,"xe":2.471,"ye":6.771},{"x":3.025,"y":6.6,"xe":2.926,"ye":6.774},{"x":3.475,"y":6.6,"xe":3.376,"ye":6.774},{"x":3.925,"y":6.6,"xe":3.831,"ye":6.777},{"x":4.375,"y":6.6,"xe":4.281,"ye":6.777},{"x":4.825,"y":6.6,"xe":4.731,"ye":6.777},{"x":5.275,"y":6.6,"xe":5.181,"ye":6.777},{"x":5.725,"y":6.6,"xe":5.635,"ye":6.779},{"x":6.175,"y":6.6,"xe":6.085,"ye":6.779},{"x":6.625,"y":6.6,"xe":6.535,"ye":6.779},{"x":7.075,"y":6.6,"xe":6.985,"ye":6.779},{"x":7.525,"y":6.6,"xe":7.435,"ye":6.779},{"x":7.975,"y":6.6,"xe":7.885,"ye":6.779},{"x":8.425,"y":6.6,"xe":8.335,"ye":6.779},{"x":8.875,"y":6.6,"xe":8.785,"ye":6.779},
{"x":0.325,"y":7.2,"xe":0.239,"ye":7.02},{"x":0.775,"y":7.2,"xe":0.585,"ye":7.264},{"x":1.225,"y":7.2,"xe":1.082,"ye":7.34},{"x":1.675,"y":7.2,"xe":1.552,"ye":7.358},{"x":2.125,"y":7.2,"xe":2.012,"ye":7.365},{"x":2.575,"y":7.2,"xe":2.467,"ye":7.368},{"x":3.025,"y":7.2,"xe":2.922,"ye":7.371},{"x":3.475,"y":7.2,"xe":3.372,"ye":7.371},{"x":3.925,"y":7.2,"xe":3.827,"ye":7.375},{"x":4.375,"y":7.2,"xe":4.277,"ye":7.375},{"x":4.825,"y":7.2,"xe":4.727,"ye":7.375},{"x":5.275,"y":7.2,"xe":5.177,"ye":7.375},{"x":5.725,"y":7.2,"xe":5.632,"ye":7.377},{"x":6.175,"y":7.2,"xe":6.082,"ye":7.377},{"x":6.625,"y":7.2,"xe":6.532,"ye":7.377},{"x":7.075,"y":7.2,"xe":6.982,"ye":7.377},{"x":7.525,"y":7.2,"xe":7.432,"ye":7.377},{"x":7.975,"y":7.2,"xe":7.882,"ye":7.377},{"x":8.425,"y":7.2,"xe":8.332,"ye":7.377},{"x":8.875,"y":7.2,"xe":8.782,"ye":7.377},
{"x":0.325,"y":7.8,"xe":0.236,"ye":7.621},{"x":0.775,"y":7.8,"xe":0.585,"ye":7.862},{"x":1.225,"y":7.8,"xe":1.08,"ye":7.937},{"x":1.675,"y":7.8,"xe":1.549,"ye":7.955},{"x":2.125,"y":7.8,"xe":2.009,"ye":7.963},{"x":2.575,"y":7.8,"xe":2.464,"ye":7.967},{"x":3.025,"y":7.8,"xe":2.919,"ye":7.97},{"x":3.475,"y":7.8,"xe":3.369,"ye":7.97},{"x":3.925,"y":7.8,"xe":3.825,"ye":7.973},{"x":4.375,"y":7.8,"xe":4.275,"ye":7.973},{"x":4.825,"y":7.8,"xe":4.725,"ye":7.973},{"x":5.275,"y":7.8,"xe":5.175,"ye":7.973},{"x":5.725,"y":7.8,"xe":5.629,"ye":7.975},{"x":6.175,"y":7.8,"xe":6.079,"ye":7.975},{"x":6.625,"y":7.8,"xe":6.529,"ye":7.975},{"x":7.075,"y":7.8,"xe":6.979,"ye":7.975},{"x":7.525,"y":7.8,"xe":7.429,"ye":7.975},{"x":7.975,"y":7.8,"xe":7.879,"ye":7.975},{"x":8.425,"y":7.8,"xe":8.329,"ye":7.975},{"x":8.875,"y":7.8,"xe":8.779,"ye":7.975},
{"x":0.325,"y":8.4,"xe":0.234,"ye":8.222},{"x":0.775,"y":8.4,"xe":0.584,"ye":8.46},{"x":1.225,"y":8.4,"xe":1.077,"ye":8.535},{"x":1.675,"y":8.4,"xe":1.547,"ye":8.553},{"x":2.125,"y":8.4,"xe":2.006,"ye":8.561},{"x":2.575,"y":8.4,"xe":2.462,"ye":8.565},{"x":3.025,"y":8.4,"xe":2.917,"ye":8.568},{"x":3.475,"y":8.4,"xe":3.367,"ye":8.568},{"x":3.925,"y":8.4,"xe":3.822,"ye":8.571},{"x":4.375,"y":8.4,"xe":4.272,"ye":8.571},{"x":4.825,"y":8.4,"xe":4.722,"ye":8.571},{"x":5.275,"y":8.4,"xe":5.172,"ye":8.571},{"x":5.725,"y":8.4,"xe":5.627,"ye":8.574},{"x":6.175,"y":8.4,"xe":6.077,"ye":8.574},{"x":6.625,"y":8.4,"xe":6.527,"ye":8.574},{"x":7.075,"y":8.4,"xe":6.977,"ye":8.574},{"x":7.525,"y":8.4,"xe":7.427,"ye":8.574},{"x":7.975,"y":8.4,"xe":7.877,"ye":8.574},{"x":8.425,"y":8.4,"xe":8.327,"ye":8.574},{"x":8.875,"y":8.4,"xe":8.777,"ye":8.574},
{"x":0.325,"y":9.0,"xe":0.232,"ye":8.823},{"x":0.775,"y":9.0,"xe":0.584,"ye":9.058},{"x":1.225,"y":9.0,"xe":1.076,"ye":9.133},{"x":1.675,"y":9.0,"xe":1.544,"ye":9.151},{"x":2.125,"y":9.0,"xe":2.004,"ye":9.159},{"x":2.575,"y":9.0,"xe":2.46,"ye":9.163},{"x":3.025,"y":9.0,"xe":2.915,"ye":9.167},{"x":3.475,"y":9.0,"xe":3.365,"ye":9.167},{"x":3.925,"y":9.0,"xe":3.82,"ye":9.17},{"x":4.375,"y":9.0,"xe":4.27,"ye":9.17},{"x":4.825,"y":9.0,"xe":4.72,"ye":9.17},{"x":5.275,"y":9.0,"xe":5.17,"ye":9.17},{"x":5.725,"y":9.0,"xe":5.624,"ye":9.173},{"x":6.175,"y":9.0,"xe":6.074,"ye":9.173},{"x":6.625,"y":9.0,"xe":6.524,"ye":9.173},{"x":7.075,"y":9.0,"xe":6.974,"ye":9.173},{"x":7.525,"y":9.0,"xe":7.424,"ye":9.173},{"x":7.975,"y":9.0,"xe":7.874,"ye":9.173},{"x":8.425,"y":9.0,"xe":8.324,"ye":9.173},{"x":8.875,"y":9.0,"xe":8.774,"ye":9.173},
{"x":0.325,"y":9.6,"xe":0.23,"ye":9.424},{"x":0.775,"y":9.6,"xe":0.583,"ye":9.657},{"x":1.225,"y":9.6,"xe":1.074,"ye":9.731},{"x":1.675,"y":9.6,"xe":1.543,"ye":9.75},{"x":2.125,"y":9.6,"xe":2.002,"ye":9.758},{"x":2.575,"y":9.6,"xe":2.458,"ye":9.762},{"x":3.025,"y":9.6,"xe":2.913,"ye":9.766},{"x":3.475,"y":9.6,"xe":3.363,"ye":9.766},{"x":3.925,"y":9.6,"xe":3.818,"ye":9.769},{"x":4.375,"y":9.6,"xe":4.268,"ye":9.769},{"x":4.825,"y":9.6,"xe":4.718,"ye":9.769},{"x":5.275,"y":9.6,"xe":5.168,"ye":9.769},{"x":5.725,"y":9.6,"xe":5.623,"ye":9.772},{"x":6.175,"y":9.6,"xe":6.073,"ye":9.772},{"x":6.625,"y":9.6,"xe":6.523,"ye":9.772},{"x":7.075,"y":9.6,"xe":6.973,"ye":9.772},{"x":7.525,"y":9.6,"xe":7.423,"ye":9.772},{"x":7.975,"y":9.6,"xe":7.873,"ye":9.772},{"x":8.425,"y":9.6,"xe":8.323,"ye":9.772},{"x":8.875,"y":9.6,"xe":8.773,"ye":9.772},
{"x":0.325,"y":10.2,"xe":0.228,"ye":10.025},{"x":0.775,"y":10.2,"xe":0.583,"ye":10.256},{"x":1.225,"y":10.2,"xe":1.073,"ye":10.33},{"x":1.675,"y":10.2,"xe":1.541,"ye":10.349},{"x":2.125,"y":10.2,"xe":2.001,"ye":10.357},{"x":2.575,"y":10.2,"xe":2.456,"ye":10.361},{"x":3.025,"y":10.2,"xe":2.911,"ye":10.365},{"x":3.475,"y":10.2,"xe":3.361,"ye":10.365},{"x":3.925,"y":10.2,"xe":3.817,"ye":10.368},{"x":4.375,"y":10.2,"xe":4.267,"ye":10.368},{"x":4.825,"y":10.2,"xe":4.717,"ye":10.368},{"x":5.275,"y":10.2,"xe":5.167,"ye":10.368},{"x":5.725,"y":10.2,"xe":5.621,"ye":10.371},{"x":6.175,"y":10.2,"xe":6.071,"ye":10.371},{"x":6.625,"y":10.2,"xe":6.521,"ye":10.371},{"x":7.075,"y":10.2,"xe":6.971,"ye":10.371},{"x":7.525,"y":10.2,"xe":7.421,"ye":10.371},{"x":7.975,"y":10.2,"xe":7.871,"ye":10.371},{"x":8.425,"y":10.2,"xe":8.321,"ye":10.371},{"x":8.875,"y":10.2,"xe":8.771,"ye":10.371},
{"x":0.325,"y":10.8,"xe":0.227,"ye":10.626},{"x":0.775,"y":10.8,"xe":0.583,"ye":10.855},{"x":1.225,"y":10.8,"xe":1.072,"ye":10.928},{"x":1.675,"y":10.8,"xe":1.54,"ye":10.948},{"x":2.125,"y":10.8,"xe":1.999,"ye":10.956},{"x":2.575,"y":10.8,"xe":2.455,"ye":10.96},{"x":3.025,"y":10.8,"xe":2.91,"ye":10.964},{"x":3.475,"y":10.8,"xe":3.36,"ye":10.964},{"x":3.925,"y":10.8,"xe":3.815,"ye":10.967},{"x":4.375,"y":10.8,"xe":4.265,"ye":10.967},{"x":4.825,"y":10.8,"xe":4.715,"ye":10.967},{"x":5.275,"y":10.8,"xe":5.165,"ye":10.967},{"x":5.725,"y":10.8,"xe":5.62,"ye":10.97},{"x":6.175,"y":10.8,"xe":6.07,"ye":10.97},{"x":6.625,"y":10.8,"xe":6.52,"ye":10.97},{"x":7.075,"y":10.8,"xe":6.97,"ye":10.97},{"x":7.525,"y":10.8,"xe":7.42,"ye":10.97},{"x":7.975,"y":10.8,"xe":7.87,"ye":10.97},{"x":8.425,"y":10.8,"xe":8.32,"ye":10.97},{"x":8.875,"y":10.8,"xe":8.77,"ye":10.97},
{"x":0.325,"y":11.4,"xe":0.226,"ye":11.226},{"x":0.775,"y":11.4,"xe":0.583,"ye":11.455},{"x":1.225,"y":11.4,"xe":1.071,"ye":11.527},{"x":1.675,"y":11.4,"xe":1.539,"ye":11.546},{"x":2.125,"y":11.4,"xe":1.998,"ye":11.555},{"x":2.575,"y":11.4,"xe":2.454,"ye":11.559},{"x":3.025,"y":11.4,"xe":2.909,"ye":11.563},{"x":3.475,"y":11.4,"xe":3.359,"ye":11.563},{"x":3.925,"y":11.4,"xe":3.814,"ye":11.567},{"x":4.375,"y":11.4,"xe":4.264,"ye":11.567},{"x":4.825,"y":11.4,"xe":4.714,"ye":11.567},{"x":5.275,"y":11.4,"xe":5.164,"ye":11.567},{"x":5.725,"y":11.4,"xe":5.619,"ye":11.569},{"x":6.175,"y":11.4,"xe":6.069,"ye":11.569},{"x":6.625,"y":11.4,"xe":6.519,"ye":11.569},{"x":7.075,"y":11.4,"xe":6.969,"ye":11.569},{"x":7.525,"y":11.4,"xe":7.419,"ye":11.569},{"x":7.975,"y":11.4,"xe":7.869,"ye":11.569},{"x":8.425,"y":11.4,"xe":8.319,"ye":11.569},{"x":8.875,"y":11.4,"xe":8.769,"ye":11.569},
{"x":0.325,"y":12.0,"xe":0.225,"ye":11.827},{"x":0.775,"y":12.0,"xe":0.582,"ye":12.054},{"x":1.225,"y":12.0,"xe":1.07,"ye":12.126},{"x":1.675,"y":12.0,"xe":1.538,"ye":12.146},{"x":2.125,"y":12.0,"xe":1.997,"ye":12.154},{"x":2.575,"y":12.0,"xe":2.453,"ye":12.158},{"x":3.025,"y":12.0,"xe":2.908,"ye":12.162},{"x":3.475,"y":12.0,"xe":3.358,"ye":12.162},{"x":3.925,"y":12.0,"xe":3.813,"ye":12.166},{"x":4.375,"y":12.0,"xe":4.263,"ye":12.166},{"x":4.825,"y":12.0,"xe":4.713,"ye":12.166},{"x":5.275,"y":12.0,"xe":5.163,"ye":12.166},{"x":5.725,"y":12.0,"xe":5.618,"ye":12.169},{"x":6.175,"y":12.0,"xe":6.068,"ye":12.169},{"x":6.625,"y":12.0,"xe":6.518,"ye":12.169},{"x":7.075,"y":12.0,"xe":6.968,"ye":12.169},{"x":7.525,"y":12.0,"xe":7.418,"ye":12.169},{"x":7.975,"y":12.0,"xe":7.868,"ye":12.169},{"x":8.425,"y":12.0,"xe":8.318,"ye":12.169},{"x":8.875,"y":12.0,"xe":8.768,"ye":12.169},
{"x":0.325,"y":12.6,"xe":0.224,"ye":12.427},{"x":0.775,"y":12.6,"xe":0.582,"ye":12.653},{"x":1.225,"y":12.6,"xe":1.069,"ye":12.725},{"x":1.675,"y":12.6,"xe":1.537,"ye":12.745},{"x":2.125,"y":12.6,"xe":1.996,"ye":12.753},{"x":2.575,"y":12.6,"xe":2.452,"ye":12.758},{"x":3.025,"y":12.6,"xe":2.907,"ye":12.761},{"x":3.475,"y":12.6,"xe":3.357,"ye":12.761},{"x":3.925,"y":12.6,"xe":3.812,"ye":12.765},{"x":4.375,"y":12.6,"xe":4.262,"ye":12.765},{"x":4.825,"y":12.6,"xe":4.712,"ye":12.765},{"x":5.275,"y":12.6,"xe":5.162,"ye":12.765},{"x":5.725,"y":12.6,"xe":5.617,"ye":12.768},{"x":6.175,"y":12.6,"xe":6.067,"ye":12.768},{"x":6.625,"y":12.6,"xe":6.517,"ye":12.768},{"x":7.075,"y":12.6,"xe":6.967,"ye":12.768},{"x":7.525,"y":12.6,"xe":7.417,"ye":12.768},{"x":7.975,"y":12.6,"xe":7.867,"ye":12.768},{"x":8.425,"y":12.6,"xe":8.317,"ye":12.768},{"x":8.875,"y":12.6,"xe":8.767,"ye":12.768},
{"x":0.325,"y":13.2,"xe":0.223,"ye":13.028},{"x":0.775,"y":13.2,"xe":0.582,"ye":13.253},{"x":1.225,"y":13.2,"xe":1.069,"ye":13.325},{"x":1.675,"y":13.2,"xe":1.536,"ye":13.344},{"x":2.125,"y":13.2,"xe":1.995,"ye":13.352},{"x":2.575,"y":13.2,"xe":2.451,"ye":13.357},{"x":3.025,"y":13.2,"xe":2.906,"ye":13.361},{"x":3.475,"y":13.2,"xe":3.356,"ye":13.361},{"x":3.925,"y":13.2,"xe":3.812,"ye":13.365},{"x":4.375,"y":13.2,"xe":4.262,"ye":13.365},{"x":4.825,"y":13.2,"xe":4.712,"ye":13.365},{"x":5.275,"y":13.2,"xe":5.162,"ye":13.365},{"x":5.725,"y":13.2,"xe":5.616,"ye":13.368},{"x":6.175,"y":13.2,"xe":6.066,"ye":13.368},{"x":6.625,"y":13.2,"xe":6.516,"ye":13.368},{"x":7.075,"y":13.2,"xe":6.966,"ye":13.368},{"x":7.525,"y":13.2,"xe":7.416,"ye":13.368},{"x":7.975,"y":13.2,"xe":7.866,"ye":13.368},{"x":8.425,"y":13.2,"xe":8.316,"ye":13.368},{"x":8.875,"y":13.2,"xe":8.766,"ye":13.368},
{"x":0.325,"y":13.8,"xe":0.223,"ye":13.628},{"x":0.775,"y":13.8,"xe":0.582,"ye":13.852},{"x":1.225,"y":13.8,"xe":1.068,"ye":13.924},{"x":1.675,"y":13.8,"xe":1.535,"ye":13.943},{"x":2.125,"y":13.8,"xe":1.994,"ye":13.952},{"x":2.575,"y":13.8,"xe":2.451,"ye":13.957},{"x":3.025,"y":13.8,"xe":2.905,"ye":13.96},{"x":3.475,"y":13.8,"xe":3.355,"ye":13.96},{"x":3.925,"y":13.8,"xe":3.811,"ye":13.964},{"x":4.375,"y":13.8,"xe":4.261,"ye":13.964},{"x":4.825,"y":13.8,"xe":4.711,"ye":13.964},{"x":5.275,"y":13.8,"xe":5.161,"ye":13.964},{"x":5.725,"y":13.8,"xe":5.615,"ye":13.967},{"x":6.175,"y":13.8,"xe":6.065,"ye":13.967},{"x":6.625,"y":13.8,"xe":6.515,"ye":13.967},{"x":7.075,"y":13.8,"xe":6.965,"ye":13.967},{"x":7.525,"y":13.8,"xe":7.415,"ye":13.967},{"x":7.975,"y":13.8,"xe":7.865,"ye":13.967},{"x":8.425,"y":13.8,"xe":8.315,"ye":13.967},{"x":8.875,"y":13.8,"xe":8.765,"ye":13.967},
{"x":0.325,"y":14.4,"xe":0.222,"ye":14.229},{"x":0.775,"y":14.4,"xe":0.582,"ye":14.452},{"x":1.225,"y":14.4,"xe":1.067,"ye":14.523},{"x":1.675,"y":14.4,"xe":1.535,"ye":14.543},{"x":2.125,"y":14.4,"xe":1.994,"ye":14.551},{"x":2.575,"y":14.4,"xe":2.45,"ye":14.556},{"x":3.025,"y":14.4,"xe":2.904,"ye":14.56},{"x":3.475,"y":14.4,"xe":3.354,"ye":14.56},{"x":3.925,"y":14.4,"xe":3.81,"ye":14.564},{"x":4.375,"y":14.4,"xe":4.26,"ye":14.564},{"x":4.825,"y":14.4,"xe":4.71,"ye":14.564},{"x":5.275,"y":14.4,"xe":5.16,"ye":14.564},{"x":5.725,"y":14.4,"xe":5.614,"ye":14.567},{"x":6.175,"y":14.4,"xe":6.064,"ye":14.567},{"x":6.625,"y":14.4,"xe":6.514,"ye":14.567},{"x":7.075,"y":14.4,"xe":6.964,"ye":14.567},{"x":7.525,"y":14.4,"xe":7.414,"ye":14.567},{"x":7.975,"y":14.4,"xe":7.864,"ye":14.567},{"x":8.425,"y":14.4,"xe":8.314,"ye":14.567},{"x":8.875,"y":14.4,"xe":8.764,"ye":14.567},
{"x":0.325,"y":15.0,"xe":0.221,"ye":14.829},{"x":0.775,"y":15.0,"xe":0.582,"ye":15.051},{"x":1.225,"y":15.0,"xe":1.067,"ye":15.122},{"x":1.675,"y":15.0,"xe":1.534,"ye":15.142},{"x":2.125,"y":15.0,"xe":1.993,"ye":15.151},{"x":2.575,"y":15.0,"xe":2.449,"ye":15.156},{"x":3.025,"y":15.0,"xe":2.904,"ye":15.16},{"x":3.475,"y":15.0,"xe":3.354,"ye":15.16},{"x":3.925,"y":15.0,"xe":3.809,"ye":15.164},{"x":4.375,"y":15.0,"xe":4.259,"ye":15.164},{"x":4.825,"y":15.0,"xe":4.709,"ye":15.164},{"x":5.275,"y":15.0,"xe":5.159,"ye":15.164},{"x":5.725,"y":15.0,"xe":5.614,"ye":15.167},{"x":6.175,"y":15.0,"xe":6.064,"ye":15.167},{"x":6.625,"y":15.0,"xe":6.514,"ye":15.167},{"x":7.075,"y":15.0,"xe":6.964,"ye":15.167},{"x":7.525,"y":15.0,"xe":7.414,"ye":15.167},{"x":7.975,"y":15.0,"xe":7.864,"ye":15.167},{"x":8.425,"y":15.0,"xe":8.314,"ye":15.167},{"x":8.875,"y":15.0,"xe":8.764,"ye":15.167}
],
"p":[
{"s":"0.5","o":1,"x":0.003,"y":1.15},{"s":"0.5","o":2,"x":0.01,"y":0.588},{"s":"0.5","o":3,"x":0.02,"y":0.432},{"s":"0.5","o":4,"x":0.03,"y":0.366},{"s":"0.5","o":5,"x":0.05,"y":0.296},{"s":"0.5","o":6,"x":0.1,"y":0.235},{"s":"0.5","o":7,"x":0.2,"y":0.187},{"s":"0.5","o":8,"x":0.3,"y":0.169},{"s":"0.5","o":9,"x":0.4,"y":0.16},{"s":"0.5","o":10,"x":0.65,"y":0.153},{"s":"0.5","o":11,"x":1,"y":0.16},{"s":"0.5","o":12,"x":1.5,"y":0.186},{"s":"0.5","o":13,"x":2,"y":0.227},{"s":"0.5","o":14,"x":2.5,"y":0.282},{"s":"0.5","o":15,"x":3,"y":0.36},{"s":"0.5","o":16,"x":3.5,"y":0.47},{"s":"0.5","o":17,"x":4,"y":0.636},{"s":"0.5","o":18,"x":4.5,"y":0.898},{"s":"0.5","o":19,"x":4.75,"y":1.1},{"s":"0.5","o":20,"x":5,"y":1.405},{"s":"0.5","o":21,"x":5.1,"y":1.577},{"s":"0.5","o":22,"x":5.18,"y":1.8},{"s":"0.5","o":23,"x":5.23,"y":2.0},{"s":"0.5","o":24,"x":5.27,"y":2.45},{"s":"0.5","o":25,"x":5.225,"y":3.0},{"s":"0.5","o":26,"x":5.19,"y":3.2},{"s":"0.5","o":27,"x":5.1,"y":3.6},{"s":"0.5","o":28,"x":5,"y":3.94},{"s":"0.5","o":29,"x":4.75,"y":4.61},{"s":"0.5","o":30,"x":4.5,"y":5.22},{"s":"0.5","o":31,"x":4,"y":6.24},{"s":"0.5","o":32,"x":3.5,"y":7.15},{"s":"0.5","o":33,"x":3,"y":7.97},{"s":"0.5","o":34,"x":2.5,"y":8.71},{"s":"0.5","o":35,"x":2,"y":9.38},{"s":"0.5","o":36,"x":1.5,"y":9.96},{"s":"0.5","o":37,"x":1,"y":10.39},{"s":"0.5","o":38,"x":0.65,"y":10.52},{"s":"0.5","o":39,"x":0.4,"y":10.4},{"s":"0.5","o":40,"x":0.3,"y":10.24},{"s":"0.5","o":41,"x":0.2,"y":9.95},{"s":"0.5","o":42,"x":0.1,"y":9.29},{"s":"0.5","o":43,"x":0.05,"y":8.53},{"s":"0.5","o":44,"x":0.03,"y":7.92},{"s":"0.5","o":45,"x":0.02,"y":7.4},{"s":"0.5","o":46,"x":0.01,"y":6.455},{"s":"0.5","o":47,"x":0.003,"y":4.48},{"s":"0.5","o":48,"x":0.0016,"y":2.45},{"s":"0.5","o":49,"x":0.003,"y":1.15},
{"s":"1","o":1,"x":0.01,"y":1.33},{"s":"1","o":2,"x":0.02,"y":0.858},{"s":"1","o":3,"x":0.03,"y":0.701},{"s":"1","o":4,"x":0.05,"y":0.55},{"s":"1","o":5,"x":0.1,"y":0.415},{"s":"1","o":6,"x":0.2,"y":0.331},{"s":"1","o":7,"x":0.3,"y":0.296},{"s":"1","o":8,"x":0.4,"y":0.282},{"s":"1","o":9,"x":0.65,"y":0.267},{"s":"1","o":10,"x":1,"y":0.28},{"s":"1","o":11,"x":1.5,"y":0.329},{"s":"1","o":12,"x":2,"y":0.4},{"s":"1","o":13,"x":2.5,"y":0.513},{"s":"1","o":14,"x":3,"y":0.688},{"s":"1","o":15,"x":3.5,"y":0.956},{"s":"1","o":16,"x":3.75,"y":1.174},{"s":"1","o":17,"x":4,"y":1.5},{"s":"1","o":18,"x":4.1,"y":1.72},{"s":"1","o":19,"x":4.175,"y":2.0},{"s":"1","o":20,"x":4.215,"y":2.45},{"s":"1","o":21,"x":4.17,"y":3.0},{"s":"1","o":22,"x":4.1,"y":3.36},{"s":"1","o":23,"x":4,"y":3.72},{"s":"1","o":24,"x":3.75,"y":4.42},{"s":"1","o":25,"x":3.5,"y":5.035},{"s":"1","o":26,"x":3,"y":6.03},{"s":"1","o":27,"x":2.5,"y":6.87},{"s":"1","o":28,"x":2,"y":7.61},{"s":"1","o":29,"x":1.5,"y":8.24},{"s":"1","o":30,"x":1,"y":8.7},{"s":"1","o":31,"x":0.65,"y":8.835},{"s":"1","o":32,"x":0.4,"y":8.71},{"s":"1","o":33,"x":0.3,"y":8.54},{"s":"1","o":34,"x":0.2,"y":8.22},{"s":"1","o":35,"x":0.1,"y":7.52},{"s":"1","o":36,"x":0.05,"y":6.67},{"s":"1","o":37,"x":0.03,"y":5.98},{"s":"1","o":38,"x":0.02,"y":5.34},{"s":"1","o":39,"x":0.01,"y":4.08},{"s":"1","o":40,"x":0.0064,"y":2.45},{"s":"1","o":41,"x":0.01,"y":1.33},
{"s":"2","o":1,"x":0.02,"y":1.48},{"s":"2","o":2,"x":0.03,"y":1.108},{"s":"2","o":3,"x":0.05,"y":0.826},{"s":"2","o":4,"x":0.1,"y":0.6},{"s":"2","o":5,"x":0.2,"y":0.469},{"s":"2","o":6,"x":0.3,"y":0.418},{"s":"2","o":7,"x":0.4,"y":0.394},{"s":"2","o":8,"x":0.65,"y":0.379},{"s":"2","o":9,"x":1,"y":0.395},{"s":"2","o":10,"x":1.5,"y":0.466},{"s":"2","o":11,"x":2,"y":0.58},{"s":"2","o":12,"x":2.5,"y":0.767},{"s":"2","o":13,"x":3,"y":1.081},{"s":"2","o":14,"x":3.25,"y":1.343},{"s":"2","o":15,"x":3.5,"y":1.825},{"s":"2","o":16,"x":3.543,"y":2.0},{"s":"2","o":17,"x":3.585,"y":2.45},{"s":"2","o":18,"x":3.538,"y":3.0},{"s":"2","o":19,"x":3.5,"y":3.2},{"s":"2","o":20,"x":3.25,"y":4.06},{"s":"2","o":21,"x":3,"y":4.66},{"s":"2","o":22,"x":2.5,"y":5.67},{"s":"2","o":23,"x":2,"y":6.5},{"s":"2","o":24,"x":1.5,"y":7.18},{"s":"2","o":25,"x":1,"y":7.66},{"s":"2","o":26,"x":0.65,"y":7.81},{"s":"2","o":27,"x":0.4,"y":7.67},{"s":"2","o":28,"x":0.3,"y":7.49},{"s":"2","o":29,"x":0.2,"y":7.16},{"s":"2","o":30,"x":0.1,"y":6.39},{"s":"2","o":31,"x":0.05,"y":5.44},{"s":"2","o":32,"x":0.03,"y":4.59},{"s":"2","o":33,"x":0.02,"y":3.76},{"s":"2","o":34,"x":0.0147,"y":2.45},{"s":"2","o":35,"x":0.02,"y":1.48},
{"s":"4","o":1,"x":0.015,"y":1.47},{"s":"4","o":2,"x":0.02,"y":1.188},{"s":"4","o":3,"x":0.03,"y":0.927},{"s":"4","o":4,"x":0.05,"y":0.717},{"s":"4","o":5,"x":0.1,"y":0.526},{"s":"4","o":6,"x":0.2,"y":0.411},{"s":"4","o":7,"x":0.3,"y":0.371},{"s":"4","o":8,"x":0.4,"y":0.351},{"s":"4","o":9,"x":0.65,"y":0.336},{"s":"4","o":10,"x":1,"y":0.352},{"s":"4","o":11,"x":1.5,"y":0.409},{"s":"4","o":12,"x":2,"y":0.507},{"s":"4","o":13,"x":2.5,"y":0.666},{"s":"4","o":14,"x":3,"y":0.909},{"s":"4","o":15,"x":3.25,"y":1.096},{"s":"4","o":16,"x":3.5,"y":1.373},{"s":"4","o":17,"x":3.7,"y":1.75},{"s":"4","o":18,"x":3.77,"y":2.0},{"s":"4","o":19,"x":3.81,"y":2.45},{"s":"4","o":20,"x":3.765,"y":3.0},{"s":"4","o":21,"x":3.7,"y":3.32},{"s":"4","o":22,"x":3.5,"y":4.01},{"s":"4","o":23,"x":3.25,"y":4.62},{"s":"4","o":24,"x":3,"y":5.18},{"s":"4","o":25,"x":2.5,"y":6.12},{"s":"4","o":26,"x":2,"y":6.91},{"s":"4","o":27,"x":1.5,"y":7.56},{"s":"4","o":28,"x":1,"y":8.04},{"s":"4","o":29,"x":0.65,"y":8.17},{"s":"4","o":30,"x":0.4,"y":8.05},{"s":"4","o":31,"x":0.3,"y":7.87},{"s":"4","o":32,"x":0.2,"y":7.54},{"s":"4","o":33,"x":0.1,"y":6.8},{"s":"4","o":34,"x":0.05,"y":5.9},{"s":"4","o":35,"x":0.03,"y":5.126},{"s":"4","o":36,"x":0.02,"y":4.38},{"s":"4","o":37,"x":0.015,"y":3.77},{"s":"4","o":38,"x":0.011,"y":2.45},{"s":"4","o":39,"x":0.015,"y":1.47},
{"s":"8","o":1,"x":0.003,"y":0.778},{"s":"8","o":2,"x":0.01,"y":0.438},{"s":"8","o":3,"x":0.02,"y":0.328},{"s":"8","o":4,"x":0.03,"y":0.28},{"s":"8","o":5,"x":0.05,"y":0.232},{"s":"8","o":6,"x":0.1,"y":0.179},{"s":"8","o":7,"x":0.2,"y":0.145},{"s":"8","o":8,"x":0.3,"y":0.133},{"s":"8","o":9,"x":0.4,"y":0.126},{"s":"8","o":10,"x":0.65,"y":0.119},{"s":"8","o":11,"x":1,"y":0.126},{"s":"8","o":12,"x":1.5,"y":0.144},{"s":"8","o":13,"x":2,"y":0.174},{"s":"8","o":14,"x":2.5,"y":0.217},{"s":"8","o":15,"x":3,"y":0.276},{"s":"8","o":16,"x":3.5,"y":0.356},{"s":"8","o":17,"x":4,"y":0.468},{"s":"8","o":18,"x":4.5,"y":0.637},{"s":"8","o":19,"x":5,"y":0.907},{"s":"8","o":20,"x":5.25,"y":1.12},{"s":"8","o":21,"x":5.5,"y":1.437},{"s":"8","o":22,"x":5.6,"y":1.625},{"s":"8","o":23,"x":5.66,"y":1.8},{"s":"8","o":24,"x":5.71,"y":2.0},{"s":"8","o":25,"x":5.75,"y":2.45},{"s":"8","o":26,"x":5.705,"y":3.0},{"s":"8","o":27,"x":5.67,"y":3.2},{"s":"8","o":28,"x":5.6,"y":3.51},{"s":"8","o":29,"x":5.5,"y":3.86},{"s":"8","o":30,"x":5.25,"y":4.57},{"s":"8","o":31,"x":5,"y":5.19},{"s":"8","o":32,"x":4.5,"y":6.24},{"s":"8","o":33,"x":4,"y":7.16},{"s":"8","o":34,"x":3.5,"y":8.01},{"s":"8","o":35,"x":3,"y":8.78},{"s":"8","o":36,"x":2.5,"y":9.5},{"s":"8","o":37,"x":2,"y":10.16},{"s":"8","o":38,"x":1.5,"y":10.72},{"s":"8","o":39,"x":1,"y":11.14},{"s":"8","o":40,"x":0.65,"y":11.27},{"s":"8","o":41,"x":0.4,"y":11.15},{"s":"8","o":42,"x":0.3,"y":11.0},{"s":"8","o":43,"x":0.2,"y":10.7},{"s":"8","o":44,"x":0.1,"y":10.07},{"s":"8","o":45,"x":0.05,"y":9.33},{"s":"8","o":46,"x":0.03,"y":8.74},{"s":"8","o":47,"x":0.02,"y":8.25},{"s":"8","o":48,"x":0.01,"y":7.36},{"s":"8","o":49,"x":0.003,"y":5.62},{"s":"8","o":50,"x":0.001,"y":3.47},{"s":"8","o":51,"x":0.0008,"y":2.45},{"s":"8","o":52,"x":0.001,"y":1.655},{"s":"8","o":53,"x":0.003,"y":0.778},
{"s":"10","o":1,"x":0.001,"y":0.592},{"s":"10","o":2,"x":0.003,"y":0.364},{"s":"10","o":3,"x":0.01,"y":0.223},{"s":"10","o":4,"x":0.02,"y":0.17},{"s":"10","o":5,"x":0.03,"y":0.145},{"s":"10","o":6,"x":0.05,"y":0.122},{"s":"10","o":7,"x":0.1,"y":0.095},{"s":"10","o":8,"x":0.2,"y":0.077},{"s":"10","o":9,"x":0.3,"y":0.071},{"s":"10","o":10,"x":0.4,"y":0.068},{"s":"10","o":11,"x":0.65,"y":0.066},{"s":"10","o":12,"x":1,"y":0.068},{"s":"10","o":13,"x":1.5,"y":0.077},{"s":"10","o":14,"x":2,"y":0.093},{"s":"10","o":15,"x":2.5,"y":0.115},{"s":"10","o":16,"x":3,"y":0.143},{"s":"10","o":17,"x":3.5,"y":0.183},{"s":"10","o":18,"x":4,"y":0.238},{"s":"10","o":19,"x":4.5,"y":0.305},{"s":"10","o":20,"x":5,"y":0.405},{"s":"10","o":21,"x":5.5,"y":0.552},{"s":"10","o":22,"x":6,"y":0.777},{"s":"10","o":23,"x":6.25,"y":0.944},{"s":"10","o":24,"x":6.5,"y":1.18},{"s":"10","o":25,"x":6.75,"y":1.55},{"s":"10","o":26,"x":6.84,"y":1.8},{"s":"10","o":27,"x":6.89,"y":2.0},{"s":"10","o":28,"x":6.926,"y":2.45},{"s":"10","o":29,"x":6.883,"y":3.0},{"s":"10","o":30,"x":6.85,"y":3.2},{"s":"10","o":31,"x":6.75,"y":3.64},{"s":"10","o":32,"x":6.5,"y":4.41},{"s":"10","o":33,"x":6.25,"y":5.07},{"s":"10","o":34,"x":6,"y":5.63},{"s":"10","o":35,"x":5.5,"y":6.65},{"s":"10","o":36,"x":5,"y":7.58},{"s":"10","o":37,"x":4.5,"y":8.44},{"s":"10","o":38,"x":4,"y":9.25},{"s":"10","o":39,"x":3.5,"y":10.02},{"s":"10","o":40,"x":3,"y":10.74},{"s":"10","o":41,"x":2.5,"y":11.41},{"s":"10","o":42,"x":2,"y":12.03},{"s":"10","o":43,"x":1.5,"y":12.57},{"s":"10","o":44,"x":1,"y":12.98},{"s":"10","o":45,"x":0.65,"y":13.1},{"s":"10","o":46,"x":0.4,"y":12.99},{"s":"10","o":47,"x":0.3,"y":12.84},{"s":"10","o":48,"x":0.2,"y":12.56},{"s":"10","o":49,"x":0.1,"y":11.95},{"s":"10","o":50,"x":0.05,"y":11.25},{"s":"10","o":51,"x":0.03,"y":10.69},{"s":"10","o":52,"x":0.02,"y":10.24},{"s":"10","o":53,"x":0.01,"y":9.43},{"s":"10","o":54,"x":0.003,"y":7.94},{"s":"10","o":55,"x":0.001,"y":6.43},{"s":"10","o":56,"x":0.0003,"y":2.45},{"s":"10","o":57,"x":0.001,"y":0.592},
{"s":"12","o":1,"x":0.001,"y":0.28},{"s":"12","o":2,"x":0.003,"y":0.179},{"s":"12","o":3,"x":0.01,"y":0.114},{"s":"12","o":4,"x":0.02,"y":0.087},{"s":"12","o":5,"x":0.03,"y":0.0745},{"s":"12","o":6,"x":0.05,"y":0.063},{"s":"12","o":7,"x":0.1,"y":0.049},{"s":"12","o":8,"x":0.2,"y":0.042},{"s":"12","o":9,"x":0.4,"y":0.036},{"s":"12","o":10,"x":0.65,"y":0.035},{"s":"12","o":11,"x":1,"y":0.036},{"s":"12","o":12,"x":1.5,"y":0.041},{"s":"12","o":13,"x":2,"y":0.048},{"s":"12","o":14,"x":2.5,"y":0.06},{"s":"12","o":15,"x":3,"y":0.074},{"s":"12","o":16,"x":3.5,"y":0.093},{"s":"12","o":17,"x":4,"y":0.121},{"s":"12","o":18,"x":4.5,"y":0.152},{"s":"12","o":19,"x":5,"y":0.198},{"s":"12","o":20,"x":5.5,"y":0.265},{"s":"12","o":21,"x":6,"y":0.349},{"s":"12","o":22,"x":6.5,"y":0.469},{"s":"12","o":23,"x":7,"y":0.655},{"s":"12","o":24,"x":7.5,"y":0.95},{"s":"12","o":25,"x":7.75,"y":1.194},{"s":"12","o":26,"x":8,"y":1.59},{"s":"12","o":27,"x":8.12,"y":2.0},{"s":"12","o":28,"x":8.157,"y":2.45},{"s":"12","o":29,"x":8.115,"y":3.0},{"s":"12","o":30,"x":8,"y":3.58},{"s":"12","o":31,"x":7.75,"y":4.37},{"s":"12","o":32,"x":7.5,"y":5.05},{"s":"12","o":33,"x":7,"y":6.165},{"s":"12","o":34,"x":6.5,"y":7.16},{"s":"12","o":35,"x":6,"y":8.07},{"s":"12","o":36,"x":5.5,"y":8.93},{"s":"12","o":37,"x":5,"y":9.74},{"s":"12","o":38,"x":4.5,"y":10.53},{"s":"12","o":39,"x":4,"y":11.29},{"s":"12","o":40,"x":3.5,"y":12.01},{"s":"12","o":41,"x":3,"y":12.7},{"s":"12","o":42,"x":2.5,"y":13.35},{"s":"12","o":43,"x":2,"y":13.95},{"s":"12","o":44,"x":1.5,"y":14.47},{"s":"12","o":45,"x":1,"y":14.86},{"s":"12","o":46,"x":0.65,"y":14.97},{"s":"12","o":47,"x":0.4,"y":14.87},{"s":"12","o":48,"x":0.3,"y":14.72},{"s":"12","o":49,"x":0.2,"y":14.45},{"s":"12","o":50,"x":0.1,"y":13.87},{"s":"12","o":51,"x":0.05,"y":13.19},{"s":"12","o":52,"x":0.03,"y":12.66},{"s":"12","o":53,"x":0.02,"y":12.22},{"s":"12","o":54,"x":0.01,"y":11.46},{"s":"12","o":55,"x":0.003,"y":10.07},{"s":"12","o":56,"x":0.001,"y":8.74},{"s":"12","o":57,"x":0.0002,"y":4},{"s":"12","o":58,"x":0.0002,"y":1},{"s":"12","o":59,"x":0.001,"y":0.28}
]},
"layer":[
{"data":{"name":"q"},
 "mark":{"type":"rule","color":"#bdbdbd","strokeWidth":1,"clip":true},
 "encoding":{
  "x":{"field":"x","type":"quantitative","scale":{"domain":[0,9],"nice":false,"zero":false},
       "axis":{"orient":"bottom","values":[0,2,4,6,8],"title":"x(t)","grid":false,"domain":false,"tickSize":-4,"tickColor":"#262626","labelFont":"Liberation Sans","labelFontSize":15,"labelColor":"#262626","labelPadding":8,"titleFont":"Liberation Serif","titleFontStyle":"italic","titleFontSize":17,"titleFontWeight":"normal","titleColor":"#000","titlePadding":12}},
  "y":{"field":"y","type":"quantitative","scale":{"domain":[0,15.2],"nice":false,"zero":false},
       "axis":{"values":[0,5,10,15],"title":"y(t)","grid":false,"domain":false,"tickSize":-4,"tickColor":"#262626","labelFont":"Liberation Sans","labelFontSize":15,"labelColor":"#262626","labelPadding":10,"titleFont":"Liberation Serif","titleFontStyle":"italic","titleFontSize":17,"titleFontWeight":"normal","titleColor":"#000","titlePadding":8}},
  "x2":{"field":"xe"},"y2":{"field":"ye"}}},
{"data":{"name":"p"},
 "mark":{"type":"line","strokeWidth":1.3,"clip":true,"interpolate":"catmull-rom"},
 "encoding":{
  "x":{"field":"x","type":"quantitative","scale":{"domain":[0,9],"nice":false,"zero":false},
       "axis":{"orient":"top","values":[0,2,4,6,8],"labels":false,"title":null,"grid":false,"domain":false,"tickSize":-4,"tickColor":"#262626"}},
  "y":{"field":"y","type":"quantitative","scale":{"domain":[0,15.2],"nice":false,"zero":false}},
  "order":{"field":"o","type":"quantitative"},
  "color":{"field":"s","type":"nominal",
    "scale":{"domain":["0.5","1","2","4","8","10","12"],"range":["#0072BD","#D95319","#EDB120","#7E2F8E","#77AC30","#4DBEEE","#A2142F"]},
    "legend":{"orient":"top-right","offset":11,"title":null,"symbolType":"M-2.5,0L2.5,0","symbolSize":231,"symbolOffset":11.65,"symbolStrokeWidth":1.5,"labelFont":"Liberation Serif","labelFontSize":17,"labelColor":"#000","labelExpr":"'y₀ =' + datum.label","labelOffset":16,"strokeColor":"#262626","fillColor":"#ffffff","padding":3,"rowPadding":1.5}}}}
],
"resolve":{"axis":{"x":"independent"}}
}
